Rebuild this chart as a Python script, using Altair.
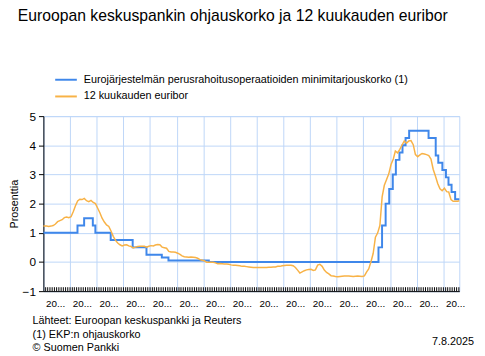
import altair as alt
import pandas as pd

# ---- texts ----
title_text = "Euroopan keskuspankin ohjauskorko ja 12 kuukauden euribor"
series_names = [
    "Eurojärjestelmän perusrahoitusoperaatioiden minimitarjouskorko (1)",
    "12 kuukauden euribor",
]
series_colors = ["#3f87ea", "#f8b246"]
y_title = "Prosenttia"
footer_lines = [
    "Lähteet: Euroopan keskuspankki ja Reuters",
    "(1) EKP:n ohjauskorko",
    "© Suomen Pankki",
]
date_note = "7.8.2025"

# ---- ECB main refinancing rate (step changes) ----
policy_dates = [
    "2010-01-01", "2011-04-13", "2011-07-13", "2011-11-09", "2011-12-14",
    "2012-07-11", "2013-05-08", "2013-11-13", "2014-06-11", "2014-09-10",
    "2016-03-16", "2022-07-27", "2022-09-14", "2022-11-02", "2022-12-21",
    "2023-02-08", "2023-03-22", "2023-05-10", "2023-06-21", "2023-08-02",
    "2023-09-20", "2024-06-12", "2024-09-18", "2024-10-23", "2024-12-18",
    "2025-02-05", "2025-03-12", "2025-04-23", "2025-06-11", "2025-08-07",
]
policy_rates = [
    1.00, 1.25, 1.50, 1.25, 1.00,
    0.75, 0.50, 0.25, 0.15, 0.05,
    0.00, 0.50, 1.25, 2.00, 2.50,
    3.00, 3.50, 3.75, 4.00, 4.25,
    4.50, 4.25, 3.65, 3.40, 3.15,
    2.90, 2.65, 2.40, 2.15, 2.15,
]

# ---- 12-month euribor, monthly (Jan..Dec) ----
eur_2010 = [1.23, 1.23, 1.22, 1.23, 1.25, 1.30, 1.38, 1.42, 1.45, 1.52, 1.54, 1.52]
eur_2011 = [1.55, 1.73, 1.92, 2.09, 2.15, 2.14, 2.18, 2.10, 2.07, 2.11, 2.04, 2.00]
eur_2012 = [1.84, 1.68, 1.50, 1.37, 1.27, 1.22, 1.06, 0.88, 0.74, 0.65, 0.59, 0.55]
eur_2013 = [0.58, 0.59, 0.55, 0.53, 0.48, 0.51, 0.53, 0.54, 0.54, 0.54, 0.51, 0.54]
eur_2014 = [0.56, 0.55, 0.58, 0.60, 0.59, 0.51, 0.49, 0.47, 0.36, 0.34, 0.34, 0.33]
eur_2015 = [0.30, 0.26, 0.21, 0.18, 0.17, 0.16, 0.17, 0.16, 0.15, 0.13, 0.08, 0.06]
eur_2016 = [0.04, -0.01, -0.01, -0.01, -0.01, -0.03, -0.06, -0.05, -0.06, -0.07, -0.07, -0.08]
eur_2017 = [-0.10, -0.11, -0.11, -0.12, -0.13, -0.15, -0.15, -0.16, -0.17, -0.18, -0.19, -0.19]
eur_2018 = [-0.19, -0.19, -0.19, -0.19, -0.19, -0.18, -0.18, -0.17, -0.17, -0.15, -0.15, -0.13]
eur_2019 = [-0.12, -0.11, -0.11, -0.11, -0.13, -0.19, -0.28, -0.38, -0.34, -0.30, -0.27, -0.26]
eur_2020 = [-0.25, -0.29, -0.27, -0.11, -0.08, -0.15, -0.28, -0.36, -0.41, -0.47, -0.48, -0.50]
eur_2021 = [-0.51, -0.50, -0.49, -0.48, -0.48, -0.48, -0.49, -0.50, -0.49, -0.48, -0.49, -0.50]
eur_2022 = [-0.48, -0.34, -0.24, 0.01, 0.29, 0.85, 0.99, 1.25, 2.23, 2.63, 2.83, 3.02]
eur_2023 = [3.34, 3.53, 3.80, 3.74, 3.86, 4.01, 4.15, 4.07, 4.15, 4.16, 4.02, 3.68]
eur_2024 = [3.61, 3.67, 3.72, 3.70, 3.68, 3.65, 3.53, 3.17, 2.94, 2.69, 2.51, 2.44]
eur_2025 = [2.53, 2.41, 2.40, 2.14, 2.08, 2.08, 2.08, 2.10]

euribor_values = (eur_2010 + eur_2011 + eur_2012 + eur_2013 + eur_2014 + eur_2015
                  + eur_2016 + eur_2017 + eur_2018 + eur_2019 + eur_2020 + eur_2021
                  + eur_2022 + eur_2023 + eur_2024 + eur_2025)
euribor_dates = []
for i in range(len(euribor_values)):
    y, m = 2010 + i // 12, i % 12 + 1
    euribor_dates.append(f"{y}-{m:02d}-15")
euribor_dates[0] = "2010-01-01"
euribor_dates[-1] = "2025-08-07"

year_starts = list(range(2010, 2026))
tick_months = [f"{2010 + i // 12}-{i % 12 + 1:02d}-01" for i in range(1, 188)]

df_policy = pd.DataFrame({"pvm": policy_dates, "arvo": policy_rates, "sarja": series_names[0]})
df_eur = pd.DataFrame({"pvm": euribor_dates, "arvo": euribor_values, "sarja": series_names[1]})
df_ticks = pd.DataFrame({"pvm": tick_months})

W, H = 423, 178
FONT = "Liberation Sans"
GRID = "#bed6f8"

x_enc = alt.X(
    "pvm:T",
    title=None,
    scale=alt.Scale(
        domain=[alt.DateTime(year=2010, month=1, date=1), alt.DateTime(year=2025, month=8, date=7)],
        nice=False,
    ),
    axis=alt.Axis(
        values=[alt.DateTime(year=y, month=1, date=1) for y in year_starts],
        labelExpr="slice(timeFormat(datum.value, '%Y'), 0, 2) + '...'",
        labelOffset=12,
        labelFlush=False,
        labelAlign="center",
        labelOverlap=False,
        labelFontSize=10,
        labelPadding=8,
        labelColor="black",
        ticks=False,
        grid=True,
        gridColor=GRID,
        domainColor="black",
    ),
)
y_enc = alt.Y(
    "arvo:Q",
    title=y_title,
    scale=alt.Scale(domain=[-1, 5], nice=False, zero=False),
    axis=alt.Axis(
        values=[-1, 0, 1, 2, 3, 4, 5],
        format="d",
        labelFontSize=12,
        labelColor="black",
        labelPadding=3,
        tickSize=5,
        tickColor="black",
        domainColor="black",
        grid=True,
        gridColor=GRID,
        titleFontSize=11,
        titleFontWeight="normal",
        titleColor="black",
        titleAngle=270,
        titleAlign="center",
        titleBaseline="middle",
        titleX=-29,
        titleY=H / 2,
    ),
)
color_enc = alt.Color(
    "sarja:N",
    scale=alt.Scale(domain=series_names, range=series_colors),
    legend=alt.Legend(
        title=None,
        orient="none",
        legendX=11,
        legendY=-49,
        symbolType="stroke",
        symbolSize=484,
        symbolStrokeWidth=2,
        labelFontSize=11,
        labelFont=FONT,
        labelColor="black",
        labelLimit=0,
        labelOffset=6,
        rowPadding=-8.5,
        padding=0,
    ),
)

policy_line = alt.Chart(df_policy).mark_line(interpolate="step-after", strokeWidth=2).encode(
    x=x_enc, y=y_enc, color=color_enc
)
eur_line = alt.Chart(df_eur).mark_line(strokeWidth=1.5).encode(
    x=x_enc, y=y_enc, color=color_enc
)
minor_ticks = alt.Chart(df_ticks).mark_rule(color="black", strokeWidth=1).encode(
    x=x_enc, y=alt.value(H - 4), y2=alt.value(H)
)

def footer(text, x, y, align="left"):
    return alt.Chart(pd.DataFrame({"teksti": [text]})).mark_text(
        align=align, baseline="alphabetic", font=FONT, fontSize=11, color="black"
    ).encode(text="teksti:N", x=alt.value(x), y=alt.value(y))

f1 = footer(footer_lines[0], -11, 211.5)
f2 = footer(footer_lines[1], -11, 226)
f3 = footer(footer_lines[2], -11, 239)
f4 = footer(date_note, 438, 232.5, align="right")

chart = alt.layer(policy_line, eur_line, minor_ticks, f1, f2, f3, f4).properties(
    width=W,
    height=H,
    autosize=alt.AutoSizeParams(type="none"),
    padding={"left": 36, "top": 107, "right": 18, "bottom": 63},
    title=alt.TitleParams(
        text=title_text,
        anchor="start",
        frame="group",
        font=FONT,
        fontSize=16,
        fontWeight="normal",
        color="black",
        dx=-26,
        offset=45,
    ),
).configure_view(stroke=GRID, strokeWidth=1).configure_axis(
    labelFont=FONT, titleFont=FONT
)

chart.save("out.html", embed_options={"renderer": "svg", "actions": False})
